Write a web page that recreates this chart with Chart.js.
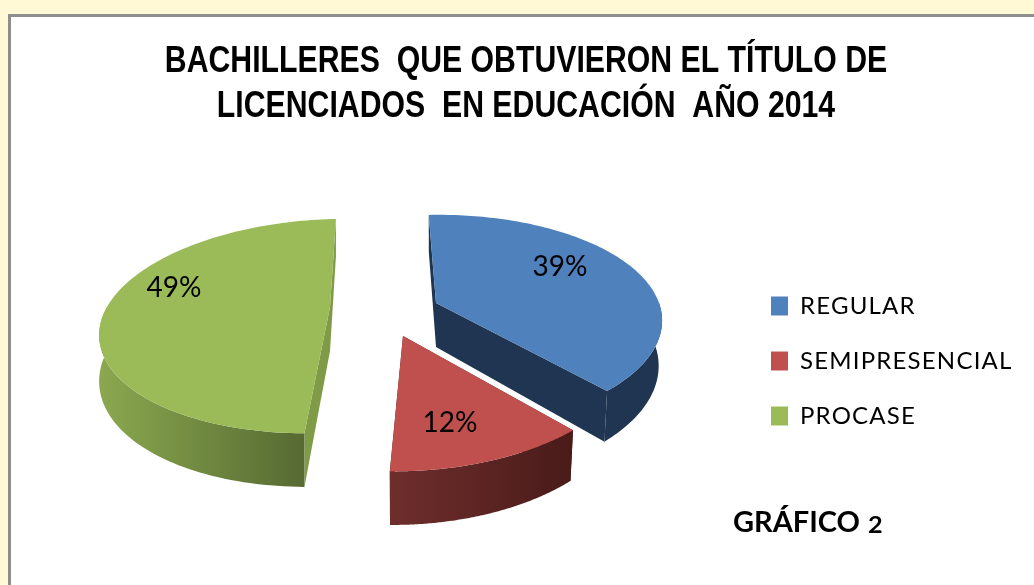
<!DOCTYPE html>
<html><head><meta charset="utf-8">
<script src="https://cdn.jsdelivr.net/npm/chart.js@4"></script>
<style>
html,body{margin:0;padding:0;background:#fff9d6;width:1034px;height:585px;overflow:hidden}
#frame{position:absolute;left:8px;top:14px;right:-4px;bottom:-4px;background:#fff;border:3px solid #8e8e8e;box-sizing:border-box}
canvas{position:absolute;left:0;top:0;filter:blur(0.4px)}
</style></head><body>
<div id="frame"></div>
<canvas id="c" width="1034" height="585"></canvas>
<script>
const categories = ["REGULAR", "SEMIPRESENCIAL", "PROCASE"];
const shares = [39, 12, 49];
const titleLines = ["BACHILLERES  QUE OBTUVIERON EL TÍTULO DE", "LICENCIADOS  EN EDUCACIÓN  AÑO 2014"];
const captionWord = "GRÁFICO";
const captionNumber = "2";

const topColors = ["#4f81bd", "#c0504d", "#9bbb59"];
const spokeColors = ["#1f3552", "#4a1b1a", "#7f9b47"];
const wallLeftColors = ["#1f3552", "#6e2e2c", "#8ba84f"];
const wallRightColors = ["#1f3552", "#491b19", "#566a32"];

// 3D look of the pie: perspective, tilt, extrusion and per-slice explosion
const view = {cx: 380, cy: 320, a: 223, b: 106, k: 0.178, depth: 44};
const explode = [
  {dx: 56, dy: -17, sx: 1, sy: 0.98, shear: -0.03, shrink: 0.985, label: [124, -36]},
  {dx: 23, dy: 16, sx: 1.02, sy: 1.05, shear: -0.076, shrink: 0.985, label: [47, 87]},
  {dx: -50, dy: -13, sx: 1, sy: 0.98, shear: -0.18, shrink: 1, label: [-156, -19]}
];
const titleSqueeze = 0.84, titleCenterX = 526;

const pie3d = {
  id: 'pie3d',
  afterLayout(chart) {
    const lg = chart.legend, tb = chart.titleBlock, ctx = chart.ctx;
    lg.left = 740; lg.top = 263; lg.right = 1034; lg.bottom = 585;
    if (!lg._spaced) {
      const draw = lg.draw;
      lg.draw = function () {
        ctx.letterSpacing = '1.2px';
        draw.apply(this, arguments);
        ctx.letterSpacing = '0px';
      };
      lg._spaced = true;
      const drawTitle = tb.draw;
      tb.draw = function () {
        const mid = (this.left + this.right) / 2;
        ctx.save();
        ctx.translate(titleCenterX, 0);
        ctx.scale(titleSqueeze, 1);
        ctx.translate(-mid, 0);
        drawTitle.apply(this, arguments);
        ctx.restore();
      };
    }
  },
  beforeDatasetsDraw(chart) {
    const ctx = chart.ctx, arcs = chart.getDatasetMeta(0).data;
    const project = (i, ang, frac, low) => {
      const e = explode[i];
      const X = Math.cos(ang) * frac, Y = Math.sin(ang) * frac;
      const w = 1 - view.k * Y;
      let x = view.a * X / w * e.sx, y = view.b * Y / w * e.sy;
      x += e.shear * y;
      let d = 0;
      if (low) { d = view.depth / w; x *= e.shrink; }
      return [view.cx + e.dx + x, view.cy + e.dy + y + d];
    };
    const arcAngles = (el) => {
      const out = [], n = 120;
      for (let s = 0; s <= n; s++) out.push(el.startAngle + (el.endAngle - el.startAngle) * s / n);
      return out;
    };
    const fillPoly = (pts, style) => {
      ctx.beginPath();
      pts.forEach((p, j) => j ? ctx.lineTo(p[0], p[1]) : ctx.moveTo(p[0], p[1]));
      ctx.closePath(); ctx.fillStyle = style; ctx.fill();
    };
    arcs.forEach((el, i) => {
      const angs = arcAngles(el);
      const top = angs.map(a => project(i, a, 1, false));
      const low = angs.map(a => project(i, a, 1, true));
      const o = project(i, 0, 0, false), ol = project(i, 0, 0, true);
      // cut faces behind, then the front part of the outer wall
      fillPoly([o, top[0], low[0], ol], spokeColors[i]);
      fillPoly([o, top[top.length - 1], low[low.length - 1], ol], spokeColors[i]);
      const front = angs.map((a, j) => Math.sin(a) > -0.03 ? j : -1).filter(j => j >= 0);
      const fTop = front.map(j => top[j]), fLow = front.map(j => low[j]);
      const xs = fTop.map(p => p[0]);
      const g = ctx.createLinearGradient(Math.min(...xs), 0, Math.max(...xs), 0);
      g.addColorStop(0, wallLeftColors[i]); g.addColorStop(1, wallRightColors[i]);
      fillPoly(fTop.concat(fLow.slice().reverse()), g);
      // top face
      fillPoly([o].concat(top), topColors[i]);
    });
    // value labels
    ctx.save();
    ctx.font = '28px Lato'; ctx.fillStyle = '#000';
    ctx.textAlign = 'center'; ctx.textBaseline = 'middle';
    arcs.forEach((el, i) => {
      const o = project(i, 0, 0, false), l = explode[i].label;
      ctx.fillText(shares[i] + '%', o[0] + l[0], o[1] + l[1]);
    });
    // caption
    ctx.textAlign = 'left'; ctx.font = 'bold 29px Lato';
    ctx.fillText(captionWord, 733, 523);
    ctx.font = 'bold 23px Lato';
    ctx.translate(868, 526);
    ctx.scale(1.1, 1);
    ctx.fillText(captionNumber, 0, 0);
    ctx.restore();
    return false;
  }
};

new Chart(document.getElementById('c'), {
  type: 'pie',
  data: {labels: categories, datasets: [{data: shares, backgroundColor: topColors, borderWidth: 0}]},
  options: {
    responsive: false, animation: false, rotation: -3,
    layout: {padding: 0},
    plugins: {
      tooltip: {enabled: false},
      title: {
        display: true, text: titleLines, color: '#000', align: 'center',
        font: {family: '"Liberation Sans"', weight: 'bold', size: 36, lineHeight: 1.25},
        padding: {top: 40, bottom: 10}
      },
      legend: {
        position: 'right', align: 'start', padding: 0,
        labels: {
          color: '#000', boxWidth: 17, boxHeight: 19, padding: 31,
          font: {family: 'Lato', size: 24}
        }
      }
    }
  },
  plugins: [pie3d]
});
</script>
</body></html>
